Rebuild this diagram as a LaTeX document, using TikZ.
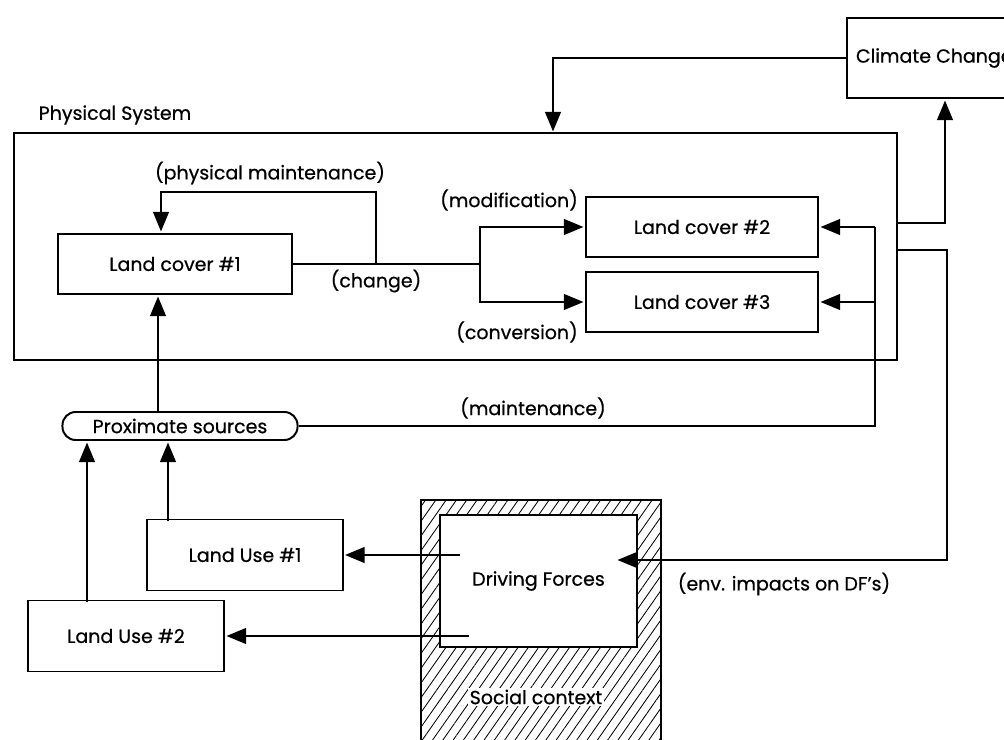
\documentclass[tikz,border=0pt]{standalone}
\usepackage{fontspec}
\setmainfont{Poppins}[FakeBold=0.6]
\usetikzlibrary{arrows.meta,patterns.meta}

\begin{document}
\begin{tikzpicture}[x=0.025cm,y=-0.025cm,
    every node/.style={font=\fontsize{13.5}{16}\selectfont},
    box/.style={draw,line width=1.4pt,fill=white,inner sep=0pt},
    line/.style={line width=2pt},
    arr/.style={line width=2pt,-{Triangle[length=14pt,width=11pt]},shorten >=1pt}]
    \useasboundingbox (0,0) rectangle (1004,740);
    % social context
    \node[draw,line width=1.4pt,pattern={Lines[angle=55,distance=6pt,line width=0.6pt]},
        minimum width=6cm,minimum height=6.5cm] (social) at (541,630) {};
    \node[box,line width=1.6pt,minimum width=4.925cm,minimum height=3.3cm] (df) at (538.5,581) {Driving Forces};
    \node[fill=white,inner sep=1pt] (soclabel) at (536,697) {Social context};
    % physical system
    \node[draw,line width=1.4pt,minimum width=22.075cm,minimum height=5.675cm] (phys) at (455.5,246.5) {};
    \node (physlabel) at (115,115) {Physical System};
    \node[box,minimum width=5.85cm,minimum height=1.5cm] (lc1) at (175,264) {Land cover \#1};
    \node[box,minimum width=5.8cm,minimum height=1.5cm] (lc2) at (702,227) {Land cover \#2};
    \node[box,minimum width=5.8cm,minimum height=1.5cm] (lc3) at (702,302) {Land cover \#3};
    \node[box,anchor=west,minimum height=2cm,inner xsep=0.225cm] (cc) at (846,58) {Climate Change};
    % land use
    \node[box,rounded corners=0.33cm,minimum width=5.875cm,minimum height=0.7cm] (ps) at (180,426) {Proximate sources};
    \node[box,minimum width=4.875cm,minimum height=1.775cm] (lu1) at (245,555) {Land Use \#1};
    \node[box,minimum width=4.9cm,minimum height=1.775cm] (lu2) at (126,636) {Land Use \#2};
    % labels
    \node (pmlabel) at (270,173) {(physical maintenance)};
    \node (chlabel) at (376,281) {(change)};
    \node (modlabel) at (509,200) {(modification)};
    \node (convlabel) at (517,332) {(conversion)};
    \node (mtlabel) at (533,408) {(maintenance)};
    \node (envlabel) at (784,584) {(env. impacts on DF's)};
    % connectors
    \coordinate (ccin) at (553,133);
    \coordinate (ccout) at (945,223);
    \coordinate (envout) at (947,250);
    \coordinate (envdn) at (947,560);
    \coordinate (envin) at (616,560);
    \coordinate (split) at (480,264);
    \coordinate (pm) at (376,264);
    \coordinate (pmtop) at (161,192);
    \coordinate (mt) at (875,227);
    \coordinate (psup) at (158,412);
    \coordinate (lu1up) at (168,521);
    \coordinate (lu2up) at (87,602);
    \coordinate (dfa) at (460,555);
    \coordinate (dfb) at (469,636);
    \draw[arr] (cc.west) -| (ccin);
    \draw[arr] (ccout -| phys.east) -| (cc.south -| ccout);
    \draw[arr] (envout -| phys.east) -| (envdn) -- (envin);
    \draw[line] (lc1.east) -- (split);
    \draw[arr] (split) |- (lc2.west);
    \draw[arr] (split) |- (lc3.west);
    \draw[arr] (pm) |- (pmtop) -- (pmtop |- lc1.north);
    \draw[line] (ps.east) -| (mt);
    \draw[arr] (mt) -- (lc2.east);
    \draw[arr] (mt |- lc3.east) -- (lc3.east);
    \draw[arr] (psup) -- (psup |- lc1.south);
    \draw[arr] (lu1up) -- (lu1up |- ps.south);
    \draw[arr] (lu2up) -- (lu2up |- ps.south);
    \draw[arr] (dfa) -- (lu1.east |- dfa);
    \draw[arr] (dfb) -- (lu2.east |- dfb);
\end{tikzpicture}
\end{document}
